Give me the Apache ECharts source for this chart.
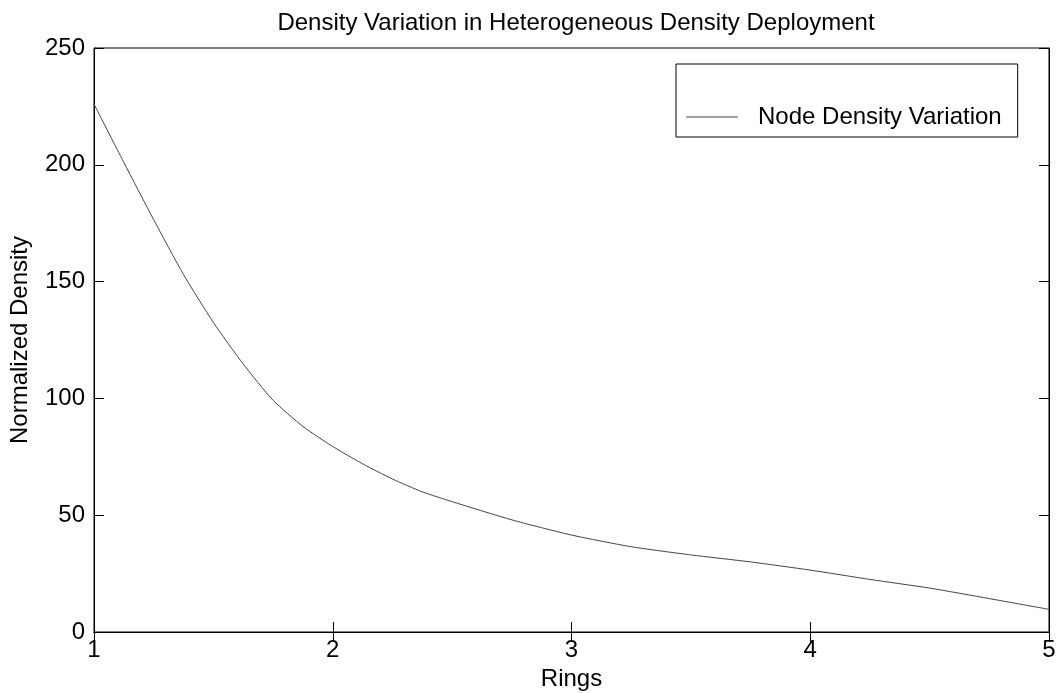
<!DOCTYPE html>
<html>
<head>
    <meta charset="utf-8">
    <title>Density Variation</title>
    <script src="https://cdn.jsdelivr.net/npm/echarts@6/dist/echarts.min.js"></script>
</head>
<style>
    html, body { margin: 0; padding: 0; background: #fff; }
    #chart_box { width: 1057px; height: 693px; }
</style>
<body>
    <div id="chart_box"></div>
    <script>
        // data
        var rings = [1, 1.125, 1.25, 1.375, 1.5, 1.625, 1.75, 1.875, 2, 2.125, 2.25, 2.375, 2.5, 2.75, 3, 3.25, 3.5, 3.75, 4, 4.25, 4.5, 4.75, 5];
        var density = [226, 201, 176.5, 153, 132.5, 114.7, 99.2, 88, 79.4, 72, 65.5, 60, 55.8, 48, 41.5, 36.5, 33, 30, 26.5, 22.5, 18.8, 14.3, 9.7];
        var xTicks = [1, 2, 3, 4, 5];
        var yTicks = [0, 50, 100, 150, 200, 250];

        var points = rings.map(function (r, i) { return [r, density[i]]; });
        var font = 'Liberation Sans, Arial, sans-serif';
        var fs = 24;

        var myChart = echarts.init(document.getElementById('chart_box'));
        var option = {
            backgroundColor: '#fff',
            animation: false,
            title: {
                text: 'Density Variation in Heterogeneous Density Deployment',
                left: 571, top: 6, textAlign: 'center',
                textStyle: { fontFamily: font, fontSize: fs, fontWeight: 'normal', color: '#000' }
            },
            grid: {
                left: 94, right: 8, top: 48, bottom: 61,
                outerBoundsMode: 'none', containLabel: false,
                show: true, borderColor: '#000', borderWidth: 1
            },
            legend: {
                left: 676, top: 64,
                data: [{ name: 'Node Density Variation', icon: 'path://M0,0H100V2H0Z' }],
                backgroundColor: '#fff',
                borderColor: '#000', borderWidth: 1,
                borderRadius: 0,
                padding: [41, 16, 8, 10],
                itemWidth: 52, itemHeight: 20,
                textStyle: { fontFamily: font, fontSize: fs, color: '#000', padding: [0, 0, 0, 15] }
            },
            xAxis: [{
                type: 'value', min: xTicks[0], max: xTicks[xTicks.length - 1], interval: 1,
                name: 'Rings', nameLocation: 'middle', nameGap: 31,
                nameTextStyle: { fontFamily: font, fontSize: fs, color: '#000' },
                axisLine: { lineStyle: { color: '#000' } },
                axisTick: { inside: true, length: 10, lineStyle: { color: '#000' } },
                axisLabel: { fontFamily: font, fontSize: fs, color: '#000', margin: 6 },
                splitLine: { show: false }
            }, {
                type: 'value', position: 'top', min: xTicks[0], max: xTicks[xTicks.length - 1], interval: 1,
                axisLine: { lineStyle: { color: '#000' } },
                axisTick: { inside: true, length: 10, lineStyle: { color: '#000' } },
                axisLabel: { show: false },
                splitLine: { show: false }
            }],
            yAxis: [{
                type: 'value', min: yTicks[0], max: yTicks[yTicks.length - 1], interval: 50,
                name: 'Normalized Density', nameLocation: 'middle', nameGap: 62,
                nameTextStyle: { fontFamily: font, fontSize: fs, color: '#000' },
                axisLine: { show: true, lineStyle: { color: '#000' } },
                axisTick: { show: true, inside: true, length: 10, lineStyle: { color: '#000' } },
                axisLabel: { fontFamily: font, fontSize: fs, color: '#000', margin: 9 },
                splitLine: { show: false }
            }, {
                type: 'value', position: 'right', min: yTicks[0], max: yTicks[yTicks.length - 1], interval: 50,
                axisLine: { show: true, lineStyle: { color: '#000' } },
                axisTick: { show: true, inside: true, length: 10, lineStyle: { color: '#000' } },
                axisLabel: { show: false },
                splitLine: { show: false }
            }],
            series: [{
                name: 'Node Density Variation',
                type: 'line',
                data: points,
                smooth: 0.2,
                symbol: 'none',
                lineStyle: { color: '#444', width: 1 },
                itemStyle: { color: '#444' }
            }]
        };
        myChart.setOption(option);
    </script>
</body>
</html>
